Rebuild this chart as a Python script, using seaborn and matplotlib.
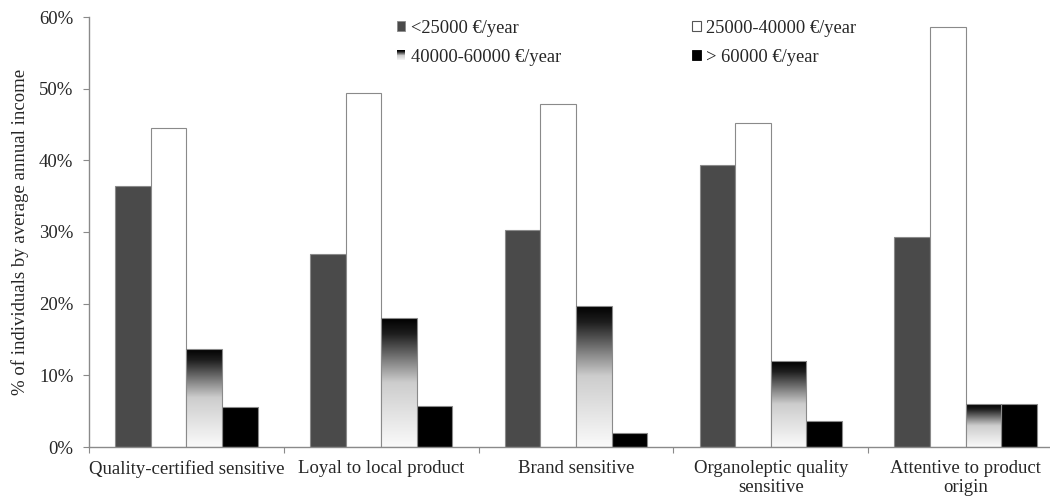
import numpy as np
import pandas as pd
import matplotlib
matplotlib.use("Agg")
import matplotlib.pyplot as plt
import seaborn as sns
from matplotlib.colors import LinearSegmentedColormap
from matplotlib.patches import Patch, Rectangle
from matplotlib.legend_handler import HandlerBase
from matplotlib.ticker import FuncFormatter, FixedLocator

categories = [
    "Quality-certified sensitive",
    "Loyal to local product",
    "Brand sensitive",
    "Organoleptic quality\nsensitive",
    "Attentive to product\norigin",
]
income_groups = ["<25000 €/year", "25000-40000 €/year", "40000-60000 €/year", "> 60000 €/year"]
low_income = [36.4, 26.9, 30.3, 39.3, 29.3]
mid_income = [44.5, 49.4, 47.9, 45.2, 58.6]
upper_income = [13.7, 18.0, 19.7, 12.0, 6.0]
high_income = [5.6, 5.7, 2.0, 3.6, 6.0]
y_ticks = [0, 10, 20, 30, 40, 50, 60]

series = [low_income, mid_income, upper_income, high_income]
df = pd.DataFrame({
    "category": categories * 4,
    "group": [g for g in income_groups for _ in categories],
    "value": [v for s in series for v in s],
})

sns.set_theme(style="white")
plt.rcParams["font.family"] = ["Liberation Serif", "DejaVu Serif"]

FS = 13.5
dark = "#4a4a4a"
edge = "#8a8a8a"
grad_cmap = LinearSegmentedColormap.from_list(
    "fade", [(0.0, "#000000"), (0.12, "#1e1e1e"), (0.35, "#8a8a8a"),
             (0.5, "#cdcdcd"), (0.8, "#e8e8e8"), (1.0, "#fafafa")])

fig = plt.figure(figsize=(10.5, 4.96), dpi=100)
ax = fig.add_axes([89 / 1050, 49 / 496, (1063 - 89) / 1050, 430 / 496])

sns.barplot(data=df, x="category", y="value", hue="group", order=categories,
            hue_order=income_groups, width=0.73, gap=0, ax=ax,
            palette=[dark, "white", "white", "black"], saturation=1,
            edgecolor=edge, linewidth=0.8, legend=False)

# vertical fade inside the 40000-60000 bars
gradient = np.linspace(1, 0, 256)[:, None]
for bar in ax.containers[2]:
    x, w, h = bar.get_x(), bar.get_width(), bar.get_height()
    im = ax.imshow(gradient, extent=[x, x + w, 0, h], origin="lower",
                   aspect="auto", cmap=grad_cmap, vmin=0, vmax=1, zorder=bar.get_zorder())
    im.set_clip_path(bar)
    bar.set_facecolor("none")
    bar.set_zorder(bar.get_zorder() + 0.1)

ax.set_xlim(-0.5, len(categories) - 0.5)
ax.set_ylim(0, 60)
ax.set_aspect("auto")

ax.set_yticks(y_ticks)
ax.yaxis.set_major_formatter(FuncFormatter(lambda v, p: f"{v:.0f}%"))
ax.set_ylabel("% of individuals by average annual income", fontsize=FS)
ax.yaxis.set_label_coords(-0.062, 0.5)
ax.set_xlabel("")

ax.set_xticks(range(len(categories)))
ax.set_xticklabels(categories, fontsize=FS, linespacing=1.12)
ax.xaxis.set_minor_locator(FixedLocator(np.arange(-0.5, len(categories), 1.0)))
ax.tick_params(axis="x", which="major", length=0, pad=9.5)
ax.tick_params(axis="x", which="minor", length=4.5, width=0.8, color=edge, direction="out", bottom=True)
ax.tick_params(axis="y", which="major", length=4.3, width=0.8, color=edge, direction="out", left=True,
               labelsize=FS, pad=7)

for side in ["top", "right"]:
    ax.spines[side].set_visible(False)
for side in ["left", "bottom"]:
    ax.spines[side].set_color(edge)
    ax.spines[side].set_linewidth(1.0)


class FadeHandler(HandlerBase):
    def create_artists(self, legend, orig_handle, xdescent, ydescent, width, height, fontsize, trans):
        n = 20
        arts = []
        for i in range(n):
            frac = i / n
            r = Rectangle((-xdescent, -ydescent + height * (1 - (i + 1) / n)), width, height / n + 0.05,
                          facecolor=grad_cmap(frac), edgecolor="none", transform=trans)
            arts.append(r)
        return arts


class FadeKey:
    pass


handles = [
    Patch(facecolor=dark, edgecolor=edge, linewidth=0.6),
    Patch(facecolor="white", edgecolor="#555555", linewidth=0.8),
    FadeKey(),
    Patch(facecolor="black", edgecolor="black", linewidth=0.6),
]
order = [0, 2, 1, 3]
leg = fig.legend([handles[i] for i in order], [income_groups[i] for i in order],
                 handler_map={FadeKey: FadeHandler()}, ncol=2, frameon=False,
                 loc="upper left", bbox_to_anchor=(397 / 1050, 1 - 20 / 496),
                 fontsize=13.3, handlelength=0.45, handleheight=0.45, handletextpad=0.3,
                 labelspacing=0.65, columnspacing=7.1, borderpad=0, borderaxespad=0)

fig.savefig("out.png", dpi=100)
